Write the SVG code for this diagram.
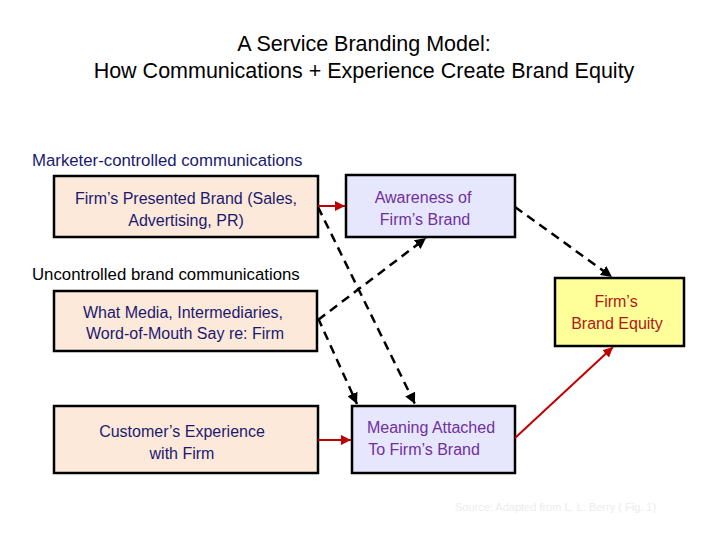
<svg xmlns="http://www.w3.org/2000/svg" width="728" height="546" viewBox="0 0 728 546">
<defs>
<marker id="ar" viewBox="0 0 10 10" refX="10" refY="5" markerWidth="5" markerHeight="5" orient="auto" markerUnits="strokeWidth"><path d="M0,0 L10,5 L0,10 z" fill="#c00000"/></marker>
<marker id="ab" viewBox="0 0 10 10" refX="10" refY="5" markerWidth="4.4" markerHeight="4.4" orient="auto" markerUnits="strokeWidth"><path d="M0,0 L10,5 L0,10 z" fill="#000"/></marker>
</defs>
<style>
text{font-family:"Liberation Sans",Arial,sans-serif;}
.t{font-size:21.5px;fill:#000;text-anchor:middle}
.lbl{font-size:16.8px}
.bx{font-size:16px;text-anchor:middle}
.peach{fill:#fde9d9;stroke:#000;stroke-width:2.5}
.lav{fill:#e6e6fc;stroke:#000;stroke-width:2.5}
.yel{fill:#ffff99;stroke:#000;stroke-width:2.5}
.navy{fill:#1a1a70}
.pur{fill:#7030a0}
.red{fill:#b01818}
.rl{stroke:#c00000;stroke-width:2;fill:none;marker-end:url(#ar)}
.dl{stroke:#000;stroke-width:2.5;fill:none;stroke-dasharray:9,6;marker-end:url(#ab)}
</style>
<rect width="728" height="546" fill="#fff"/>
<text class="t" x="364" y="51">A Service Branding Model:</text>
<text class="t" x="364" y="78">How Communications + Experience Create Brand Equity</text>
<text class="lbl navy" x="32" y="166">Marketer-controlled communications</text>
<text class="lbl" x="32" y="280" fill="#000">Uncontrolled brand communications</text>
<g id="firm-presented"><rect class="peach" x="54" y="176" width="264" height="61"/><text class="bx navy" x="186" y="204">Firm’s Presented Brand (Sales,</text><text class="bx navy" x="186" y="226">Advertising, PR)</text></g>
<g id="media"><rect class="peach" x="54" y="291" width="263" height="60"/><text class="bx navy" x="183" y="318">What Media, Intermediaries,</text><text class="bx navy" x="185" y="339">Word-of-Mouth Say re: Firm</text></g>
<g id="experience"><rect class="peach" x="54" y="406" width="264" height="67"/><text class="bx navy" x="182" y="437">Customer’s Experience</text><text class="bx navy" x="182" y="459">with Firm</text></g>
<g id="awareness"><rect class="lav" x="346" y="175" width="169" height="62"/><text class="bx pur" x="423" y="203">Awareness of</text><text class="bx pur" x="425" y="225">Firm’s Brand</text></g>
<g id="meaning"><rect class="lav" x="352" y="406" width="163" height="67"/><text class="bx pur" x="431" y="433">Meaning Attached</text><text class="bx pur" x="424" y="455">To Firm’s Brand</text></g>
<g id="equity"><rect class="yel" x="555" y="278" width="129" height="68"/><text class="bx red" x="616" y="307">Firm’s</text><text class="bx red" x="617" y="329">Brand Equity</text></g>
<g id="connectors">
<line class="rl" x1="318" y1="206" x2="345" y2="206"/>
<line class="rl" x1="318" y1="440" x2="351" y2="440"/>
<line class="rl" x1="515" y1="438" x2="613" y2="347"/>
<line class="dl" x1="515" y1="207" x2="612" y2="277"/>
<line class="dl" x1="318" y1="207" x2="415" y2="404"/>
<line class="dl" x1="318" y1="320" x2="426" y2="238"/>
<line class="dl" x1="318" y1="318" x2="357" y2="404"/>
</g>
<text x="455" y="511" font-size="11" fill="#ececec">Source:  Adapted from L. L. Berry ( Fig. 1)</text>
</svg>
